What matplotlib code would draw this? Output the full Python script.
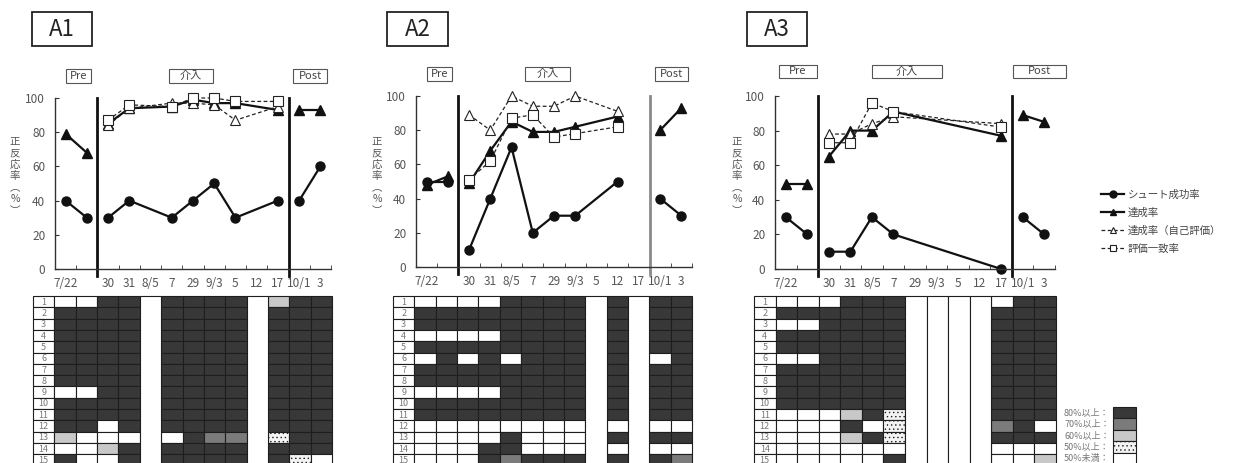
import matplotlib.pyplot as plt
from matplotlib.patches import Rectangle
from matplotlib.lines import Line2D

plt.rcParams['font.family'] = ['Noto Sans CJK JP', 'DejaVu Sans']
plt.rcParams['hatch.color'] = '#cccccc'
plt.rcParams['hatch.linewidth'] = 0.5

W, H = 1235, 463
N = None

# categories (session dates) and phases
dates = ['7/22', '', '30', '31', '8/5', '7', '29', '9/3', '5', '12', '17', '10/1', '3']
phases = [(0, 2), (2, 11), (11, 13)]
phase_names = ['Pre', '介入', 'Post']

series_names = ['シュート成功率', '達成率', '達成率（自己評価）', '評価一致率']
ylabel_chars = ['正', '反', '応', '率', '︵', '%', '︶']

# A1
a1_shoot = [40, 30, 30, 40, N, 30, 40, 50, 30, N, 40, 40, 60]
a1_goal = [79, 68, 85, 94, N, 95, 99, 97, 97, N, 93, 93, 93]
a1_self = [N, N, 84, 94, N, 97, 97, 96, 87, N, 95, N, N]
a1_match = [N, N, 87, 96, N, 95, 100, 100, 98, N, 98, N, N]

# A2
a2_shoot = [50, 50, 10, 40, 70, 20, 30, 30, N, 50, N, 40, 30]
a2_goal = [48, 53, 49, 68, 85, 79, 79, 82, N, 88, N, 80, 93]
a2_self = [N, N, 89, 80, 100, 94, 94, 100, N, 91, N, N, N]
a2_match = [N, N, 51, 62, 87, 89, 76, 78, N, 82, N, N, N]

# A3
a3_shoot = [30, 20, 10, 10, 30, 20, N, N, N, N, 0, 30, 20]
a3_goal = [49, 49, 65, 80, 80, 91, N, N, N, N, 77, 89, 85]
a3_self = [N, N, 78, 78, 84, 88, N, N, N, N, 84, N, N]
a3_match = [N, N, 73, 73, 96, 91, N, N, N, N, 82, N, N]

# task-step grids: 4 >=80%, 3 >=70%, 2 >=60%, 1 >=50%, 0 <50%, '-' no session
a1_grid = ['0044-4444-244', '4444-4444-444', '4444-4444-444', '4444-4444-444',
           '4444-4444-444', '4444-4444-444', '4444-4444-444', '4444-4444-444',
           '0044-4444-444', '4444-4444-444', '4444-4444-444', '4404-4444-444',
           '2000-0433-144', '0024-4444-444', '4004-4444-410']
a2_grid = ['00004444-4-44', '44444444-4-44', '44444444-4-44', '00004444-4-44',
           '44444444-4-44', '04040444-4-04', '44444444-4-44', '44444444-4-44',
           '00004444-4-44', '44444444-4-44', '44444444-4-44', '00000000-0-00',
           '00004000-4-44', '00044000-0-00', '00043444-4-43']
a3_grid = ['000444----044', '444444----444', '004444----444', '444444----444',
           '444444----444', '004444----444', '444444----444', '444444----444',
           '444444----444', '444444----444', '000241----444', '000401----340',
           '000241----444', '000000----000', '000004----002']

level_labels = ['80%以上：', '70%以上：', '60%以上：', '50%以上：', '50%未満：']
level_codes = ['4', '3', '2', '1', '0']

cell_color = {'4': '#383838', '3': '#7b7b7b', '2': '#c8c8c8', '1': '#f3f3f3', '0': 'white'}
TXT = '#555555'


def frect(x0, y0, x1, y1):
    return [x0 / W, 1 - y1 / H, (x1 - x0) / W, (y1 - y0) / H]


fig = plt.figure(figsize=(W / 100, H / 100), dpi=100)
ov = fig.add_axes([0, 0, 1, 1], zorder=-1)
ov.set_xlim(0, W)
ov.set_ylim(H, 0)
ov.axis('off')

panels = [
    dict(name='A1', data=(a1_shoot, a1_goal, a1_self, a1_match), grid=a1_grid,
         ax=(55, 98, 331, 269), title=(32, 12, 92, 46), ylab=15,
         boxes=[(66, 69, 91, 83), (169, 69, 213, 83), (293, 69, 327, 83)],
         gx=(33, 332), line2='#111111'),
    dict(name='A2', data=(a2_shoot, a2_goal, a2_self, a2_match), grid=a2_grid,
         ax=(416, 96, 692, 267), title=(387, 12, 448, 46), ylab=377,
         boxes=[(427, 67, 452, 81), (525, 67, 570, 81), (655, 67, 688, 81)],
         gx=(393, 692), line2='#8a8a8a'),
    dict(name='A3', data=(a3_shoot, a3_goal, a3_self, a3_match), grid=a3_grid,
         ax=(775, 96, 1055, 269), title=(747, 12, 807, 46), ylab=737,
         boxes=[(779, 65, 817, 78), (872, 65, 942, 78), (1013, 65, 1066, 78)],
         gx=(754, 1056), line2='#111111'),
]

styles = [
    dict(marker='o', ls='-', lw=1.6, ms=6.5, mfc='#111111', mec='#111111', color='#111111'),
    dict(marker='^', ls='-', lw=1.6, ms=6.5, mfc='#111111', mec='#111111', color='#111111'),
    dict(marker='^', ls=(0, (3, 2)), lw=0.9, ms=6.5, mfc='white', mec='#222222', mew=0.8, color='#222222'),
    dict(marker='s', ls=(0, (3, 2)), lw=0.9, ms=6.5, mfc='white', mec='#222222', mew=0.8, color='#222222'),
]
draw_order = [1, 2, 3, 0]

for p in panels:
    # title box
    x0, y0, x1, y1 = p['title']
    ov.add_patch(Rectangle((x0, y0), x1 - x0, y1 - y0, fill=False, ec='#222222', lw=1.3))
    ov.text((x0 + x1) / 2, (y0 + y1) / 2, p['name'], ha='center', va='center',
            fontsize=16, color='#222222')
    # phase boxes
    for (bx0, by0, bx1, by1), nm in zip(p['boxes'], phase_names):
        ov.add_patch(Rectangle((bx0, by0), bx1 - bx0, by1 - by0, fill=False, ec='#555555', lw=0.8))
        ov.text((bx0 + bx1) / 2, (by0 + by1) / 2, nm, ha='center', va='center',
                fontsize=8, color='#444444')
    # y label (vertical writing, one character per step)
    for j, ch in enumerate(ylabel_chars):
        ov.text(p['ylab'], 142 + j * 11.5, ch, ha='center', va='center',
                fontsize=7.5, color=TXT)

    # line chart
    ax = fig.add_axes(frect(*p['ax']))
    ax.set_xlim(-0.5, 12.5)
    ax.set_ylim(0, 100)
    ax.patch.set_visible(False)
    for s in ['top', 'right']:
        ax.spines[s].set_visible(False)
    for s in ['left', 'bottom']:
        ax.spines[s].set_color('#333333')
        ax.spines[s].set_linewidth(1.0)
    ax.set_yticks(range(0, 101, 20))
    ax.set_xticks(range(len(dates)))
    ax.set_xticklabels(dates)
    ax.set_xticks([i - 0.5 for i in range(len(dates) + 1)], minor=True)
    ax.tick_params(axis='y', direction='in', length=3, labelsize=8.5, labelcolor=TXT,
                   color='#333333', pad=7)
    ax.tick_params(axis='x', which='major', length=0, labelsize=8.5, labelcolor=TXT, pad=6)
    ax.tick_params(axis='x', which='minor', direction='in', length=3, color='#333333')

    ax.plot([1.5, 1.5], [-4, 100], color='#111111', lw=2, clip_on=False)
    ax.plot([10.5, 10.5], [-4, 100], color=p['line2'], lw=2, clip_on=False)

    for k in draw_order:
        vals = p['data'][k]
        for s, e in phases:
            xs = [i for i in range(s, e) if vals[i] is not None]
            if xs:
                ax.plot(xs, [vals[i] for i in xs], clip_on=False, **styles[k])

    # grid of task steps
    gx0, gx1 = p['gx']
    g = fig.add_axes(frect(gx0, 296, gx1, 296 + 15 * 11.3))
    g.set_xlim(-1, 13)
    g.set_ylim(15, 0)
    g.axis('off')
    rows = p['grid']
    for r, row in enumerate(rows):
        g.add_patch(Rectangle((-1, r), 1, 1, fc='white', ec='#1e1e1e', lw=0.8, clip_on=False))
        g.text(-0.5, r + 0.55, str(r + 1), ha='center', va='center', fontsize=6.5,
               color='#777777')
        for c, code in enumerate(row):
            if code == '-':
                continue
            g.add_patch(Rectangle((c, r), 1, 1, fc=cell_color[code], ec='#1e1e1e', lw=0.8,
                                  hatch='....' if code == '1' else None, clip_on=False))
    for c in range(13):
        if rows[0][c] == '-':
            g.add_patch(Rectangle((c, 0), 1, 15, fc='white', ec='#1e1e1e', lw=0.8, clip_on=False))

# line legend
handles = [Line2D([], [], **dict(styles[k], ms=5)) for k in range(4)]
fig.legend(handles, series_names, loc='upper left', bbox_to_anchor=(1092 / W, 1 - 180 / H),
           frameon=False, fontsize=7.5, handlelength=2.2, handletextpad=0.3,
           labelspacing=0.75, labelcolor='#444444')

# grid legend
lg = fig.add_axes(frect(1113, 407, 1136, 407 + 5 * 11.4))
lg.set_xlim(0, 1)
lg.set_ylim(5, 0)
lg.axis('off')
for i, (code, lab) in enumerate(zip(level_codes, level_labels)):
    lg.add_patch(Rectangle((0, i), 1, 1, fc=cell_color[code], ec='#1e1e1e', lw=0.8,
                           hatch='....' if code == '1' else None, clip_on=False))
    lg.text(-0.15, i + 0.5, lab, ha='right', va='center', fontsize=6.5, color='#777777')

fig.savefig('out.png', dpi=100)
